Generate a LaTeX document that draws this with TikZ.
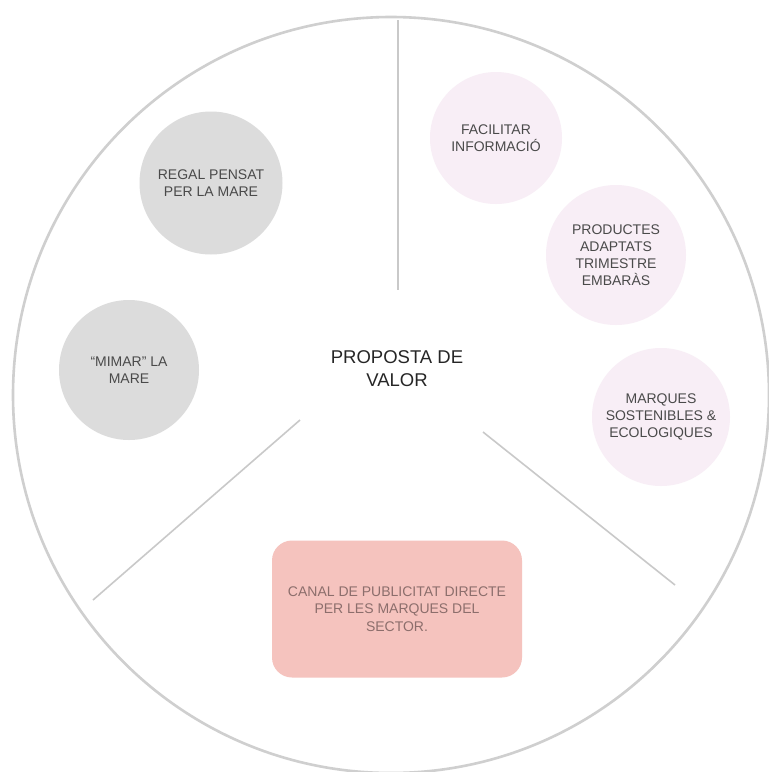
\documentclass[tikz,border=0pt]{standalone}
\usepackage{fontspec}
\setmainfont{Liberation Sans}
\definecolor{ringgray}{HTML}{CFCFCF}
\definecolor{linegray}{HTML}{C9C9C9}
\definecolor{bubblegray}{HTML}{DCDCDC}
\definecolor{bubblepink}{HTML}{F8EEF6}
\definecolor{boxsalmon}{HTML}{F5C3BE}
\definecolor{textgray}{HTML}{4A4A4A}
\definecolor{boxtext}{HTML}{8C6E6C}
\tikzset{
  bubble/.style={circle, inner sep=0pt, align=center, text=textgray,
     font=\fontsize{14}{17}\selectfont},
  graybubble/.style={bubble, fill=bubblegray},
  pinkbubble/.style={bubble, fill=bubblepink},
  divider/.style={draw=linegray, line width=1.6pt},
}
\begin{document}
\begin{tikzpicture}[x=1pt,y=-1pt]
\useasboundingbox (0,0) rectangle (769,772);
\clip (0,0) rectangle (769,772);
\fill[white] (0,0) rectangle (769,772);
% outer ring
\draw[draw=ringgray, line width=2.6pt] (391,395) circle[radius=378];
% dividers
\coordinate (v1) at (398,20);
\coordinate (v2) at (398,290);
\coordinate (l1) at (300,420);
\coordinate (l2) at (93,600);
\coordinate (r1) at (483,432);
\coordinate (r2) at (675,585);
\draw[divider] (v1) -- (v2);
\draw[divider] (l1) -- (l2);
\draw[divider] (r1) -- (r2);
% center title
\node[text=black!85, align=center, font=\fontsize{18.5}{23}\selectfont] (title) at (397,369) {PROPOSTA DE\\VALOR};
% gray bubbles
\node[graybubble, minimum size=143pt] (regal) at (211,183) {REGAL PENSAT\\PER LA MARE};
\node[graybubble, minimum size=140pt] (mimar) at (129,370) {“MIMAR” LA\\MARE};
% pink bubbles
\node[pinkbubble, minimum size=132pt] (facil) at (496,138) {FACILITAR\\INFORMACIÓ};
\node[pinkbubble, minimum size=140pt] (prod) at (616,255) {PRODUCTES\\ADAPTATS\\TRIMESTRE\\EMBARÀS};
\node[pinkbubble, minimum size=138pt] (marq) at (661,417) {MARQUES\\SOSTENIBLES \&\\ECOLOGIQUES};
% box
\node[fill=boxsalmon, rounded corners=20pt, minimum width=250pt, minimum height=137pt,
      inner sep=0pt, align=center, text=boxtext, font=\fontsize{14}{17.5}\selectfont]
      (canal) at (397,609) {CANAL DE PUBLICITAT DIRECTE\\PER LES MARQUES DEL\\SECTOR.};
\end{tikzpicture}
\end{document}
